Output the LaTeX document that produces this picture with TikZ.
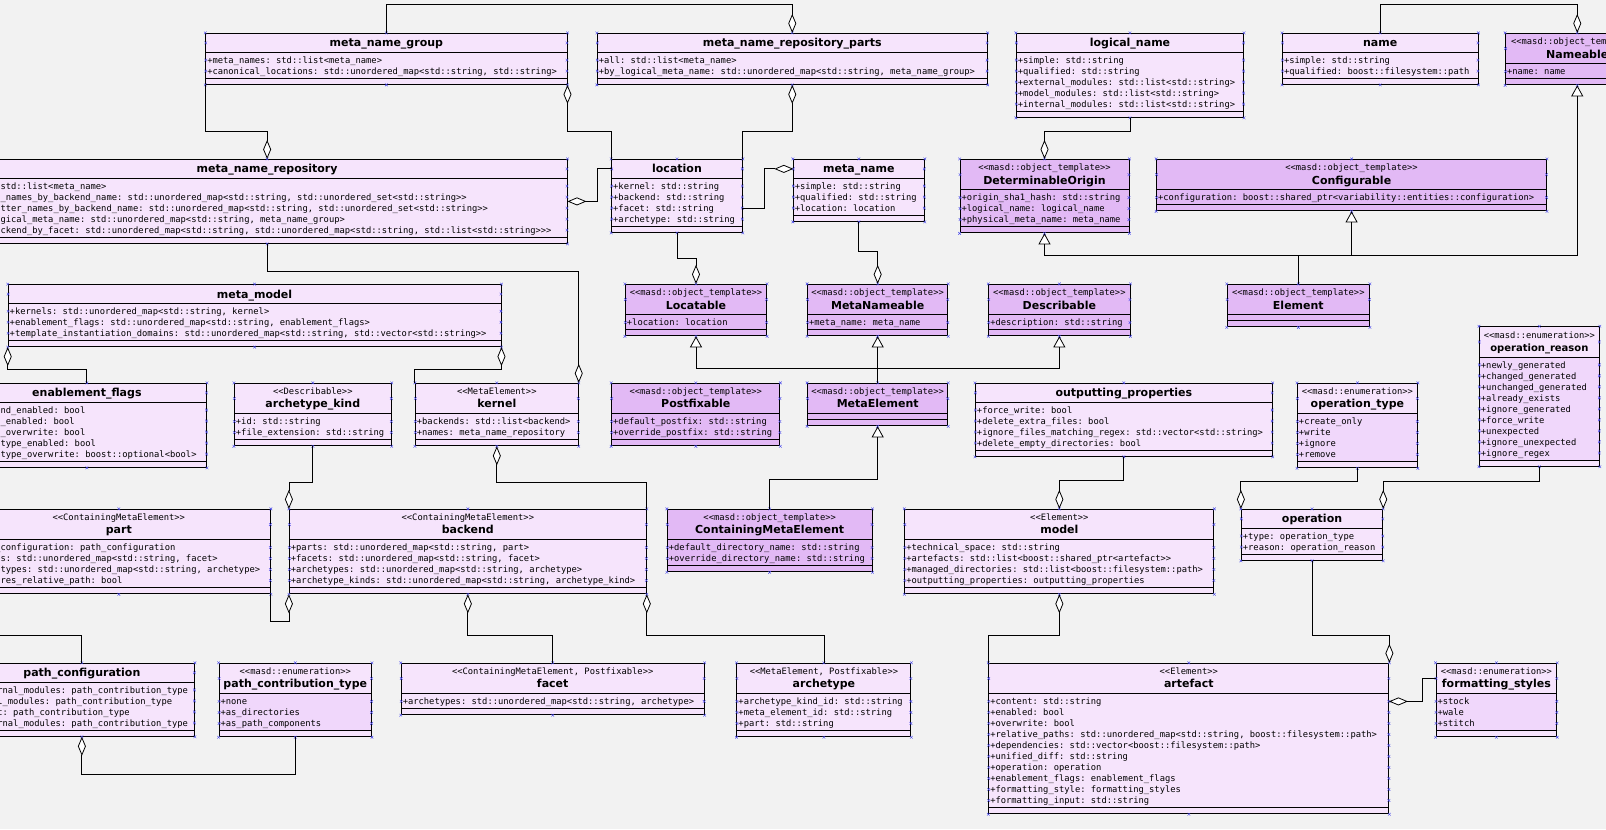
\documentclass[tikz,border=0pt]{standalone}
\usepackage{fontspec}
\setmainfont{DejaVu Sans}
\setmonofont{DejaVu Sans Mono}
\usetikzlibrary{arrows.meta,fit}
\definecolor{bgcol}{RGB}{242,242,242}
\definecolor{umlplain}{RGB}{246,228,252}
\definecolor{umltmpl}{RGB}{226,185,245}
\definecolor{umlenum}{RGB}{240,215,251}
\definecolor{markblue}{RGB}{70,70,235}
\tikzset{
  box plain/.style={draw, fill=umlplain, inner sep=0pt, line width=0.9pt},
  box tmpl/.style={draw, fill=umltmpl, inner sep=0pt, line width=0.9pt},
  box enum/.style={draw, fill=umlplain, inner sep=0pt, line width=0.9pt},
  attr plain/.style={fill=umlplain},
  attr tmpl/.style={fill=umltmpl},
  attr enum/.style={fill=umlenum},
  boxline/.style={line width=0.9pt},
  xmark/.style={draw=markblue, line width=0.4pt},
  titletext/.style={font=\bfseries\fontsize{11}{13}\selectfont, inner sep=0pt},
  stereotext/.style={font=\ttfamily\fontsize{8.8}{10}\selectfont, inner sep=0pt},
  attrtext/.style={font=\ttfamily\fontsize{8.8}{11}\selectfont, inner sep=0pt, align=left},
  link/.style={line width=0.8pt},
  agg/.style={link, -{Diamond[open, fill=white, length=19pt, width=8pt]}},
  gga/.style={link, {Diamond[open, fill=white, length=19pt, width=8pt]}-},
  inh/.style={link, -{Triangle[open, fill=white, length=11pt, width=12pt]}}
}
\newcommand{\umlclass}[9]{%
  \if\relax\detokenize{#6}\relax\def\tth{18.6}\else\def\tth{29.8}\fi
  \ifnum#8=0 \def\aah{5.9}\else\pgfmathsetmacro\aah{10.75*#8+3.9}\fi
  \pgfmathsetmacro\ysep{#5+\tth}
  \pgfmathsetmacro\yops{\ysep+\aah}
  \pgfmathsetmacro\ybot{\yops+5.9}
  \pgfmathsetmacro\xmid{(#3+#4)/2}
  \coordinate (#1-nw) at (#3,#5);
  \coordinate (#1-se) at (#4,\ybot);
  \node[box #2, fit=(#1-nw)(#1-se)] (#1) {};
  \fill[attr #2] (#3,\ysep) rectangle (#4,\yops);
  \draw[boxline] (#3,\ysep) -- (#4,\ysep) (#3,\yops) -- (#4,\yops) (#1-nw) rectangle (#1-se);
  \coordinate (#1-tl) at (#3,#5+\tth/2);
  \coordinate (#1-tr) at (#4,#5+\tth/2);
  \if\relax\detokenize{#6}\relax
    \node[titletext, anchor=base] (#1-t) at (\xmid,#5+13.3) {#7};
  \else
    \node[stereotext, anchor=base] (#1-s) at (\xmid,#5+11.2) {#6};
    \node[titletext, anchor=base] (#1-t) at (\xmid,#5+24.1) {#7};
  \fi
  \ifnum#8>0
    \node[attrtext, anchor=north west] (#1-a) at (#3+1.3,\ysep+3.1) {\rule{0pt}{7.5pt}#9};
    \foreach \i in {1,...,#8}{
      \coordinate (#1-w\i) at (#3,\ysep+10.75*\i-3.25);
      \coordinate (#1-e\i) at (#4,\ysep+10.75*\i-3.25);
      \draw[xmark] (#1-w\i) +(-1.3,-1.3) -- +(1.3,1.3) +(-1.3,1.3) -- +(1.3,-1.3);
      \draw[xmark] (#1-e\i) +(-1.3,-1.3) -- +(1.3,1.3) +(-1.3,1.3) -- +(1.3,-1.3);
    }
  \fi
  \foreach \p in {#1.north west,#1.north,#1.north east,#1.south west,#1.south,#1.south east,#1-tl,#1-tr}
    \draw[xmark] (\p) +(-1.3,-1.3) -- +(1.3,1.3) +(-1.3,1.3) -- +(1.3,-1.3);
}
\begin{document}
\begin{tikzpicture}[x=1.0235pt, y=-1.0235pt]
  \useasboundingbox (0,0) rectangle (1569.1,810);
  \clip (0,0) rectangle (1569.1,810);
  \fill[bgcol] (0,0) rectangle (1569.1,810);

  \umlclass{mng}{plain}{201}{554}{32.6}{}{meta\_name\_group}{2}{+meta\_names: std::list<meta\_name>\\+canonical\_locations: std::unordered\_map<std::string, std::string>}
  \umlclass{mnrp}{plain}{583.6}{964.5}{32.6}{}{meta\_name\_repository\_parts}{2}{+all: std::list<meta\_name>\\+by\_logical\_meta\_name: std::unordered\_map<std::string, meta\_name\_group>}
  \umlclass{lgn}{plain}{993}{1215}{32.6}{}{logical\_name}{5}{+simple: std::string\\+qualified: std::string\\+external\_modules: std::list<std::string>\\+model\_modules: std::list<std::string>\\+internal\_modules: std::list<std::string>}
  \umlclass{name}{plain}{1253}{1444}{32.6}{}{name}{2}{+simple: std::string\\+qualified: boost::filesystem::path}
  \umlclass{nmb}{tmpl}{1471}{1611}{32.6}{<<masd::object\_template>>}{Nameable}{1}{+name: name}

  \umlclass{mnr}{plain}{-32}{554}{155.7}{}{meta\_name\_repository}{5}{+all: std::list<meta\_name>\\+facet\_names\_by\_backend\_name: std::unordered\_map<std::string, std::unordered\_set<std::string>>\\+formatter\_names\_by\_backend\_name: std::unordered\_map<std::string, std::unordered\_set<std::string>>\\+by\_logical\_meta\_name: std::unordered\_map<std::string, meta\_name\_group>\\+by\_backend\_by\_facet: std::unordered\_map<std::string, std::unordered\_map<std::string, std::list<std::string>>>}
  \umlclass{loc}{plain}{597.6}{725.3}{155.7}{}{location}{4}{+kernel: std::string\\+backend: std::string\\+facet: std::string\\+archetype: std::string}
  \umlclass{mn}{plain}{775.1}{903.1}{155.7}{}{meta\_name}{3}{+simple: std::string\\+qualified: std::string\\+location: location}
  \umlclass{dor}{tmpl}{938}{1103}{155.7}{<<masd::object\_template>>}{DeterminableOrigin}{3}{+origin\_sha1\_hash: std::string\\+logical\_name: logical\_name\\+physical\_meta\_name: meta\_name}
  \umlclass{cfg}{tmpl}{1130}{1511}{155.7}{<<masd::object\_template>>}{Configurable}{1}{+configuration: boost::shared\_ptr<variability::entities::configuration>}

  \umlclass{mm}{plain}{8}{489.5}{278}{}{meta\_model}{3}{+kernels: std::unordered\_map<std::string, kernel>\\+enablement\_flags: std::unordered\_map<std::string, enablement\_flags>\\+template\_instantiation\_domains: std::unordered\_map<std::string, std::vector<std::string>>}
  \umlclass{loca}{tmpl}{611}{749}{277.8}{<<masd::object\_template>>}{Locatable}{1}{+location: location}
  \umlclass{mnb}{tmpl}{789}{926}{277.8}{<<masd::object\_template>>}{MetaNameable}{1}{+meta\_name: meta\_name}
  \umlclass{desc}{tmpl}{966}{1104}{277.8}{<<masd::object\_template>>}{Describable}{1}{+description: std::string}
  \umlclass{elem}{tmpl}{1199}{1338}{277.8}{<<masd::object\_template>>}{Element}{0}{}
  \umlclass{opr}{enum}{1445.4}{1562.6}{319.2}{<<masd::enumeration>>}{\fontsize{10}{12}\selectfont operation\_reason}{9}{+newly\_generated\\+changed\_generated\\+unchanged\_generated\\+already\_exists\\+ignore\_generated\\+force\_write\\+unexpected\\+ignore\_unexpected\\+ignore\_regex}

  \umlclass{enf}{plain}{-32}{201.8}{374.5}{}{enablement\_flags}{5}{+backend\_enabled: bool\\+facet\_enabled: bool\\+facet\_overwrite: bool\\+archetype\_enabled: bool\\+archetype\_overwrite: boost::optional<bool>}
  \umlclass{ak}{plain}{229}{382.3}{374.5}{<<Describable>>}{archetype\_kind}{2}{+id: std::string\\+file\_extension: std::string}
  \umlclass{kern}{plain}{405.8}{565}{374.5}{<<MetaElement>>}{kernel}{2}{+backends: std::list<backend>\\+names: meta\_name\_repository}
  \umlclass{pfx}{tmpl}{597.6}{762}{374.5}{<<masd::object\_template>>}{Postfixable}{2}{+default\_postfix: std::string\\+override\_postfix: std::string}
  \umlclass{mel}{tmpl}{789}{926}{374.5}{<<masd::object\_template>>}{MetaElement}{0}{}
  \umlclass{outp}{plain}{953}{1243}{374.5}{}{outputting\_properties}{4}{+force\_write: bool\\+delete\_extra\_files: bool\\+ignore\_files\_matching\_regex: std::vector<std::string>\\+delete\_empty\_directories: bool}
  \umlclass{opt}{enum}{1267.6}{1384.8}{374.5}{<<masd::enumeration>>}{operation\_type}{4}{+create\_only\\+write\\+ignore\\+remove}

  \umlclass{part}{plain}{-32}{264.2}{497.6}{<<ContainingMetaElement>>}{part}{4}{+path\_configuration: path\_configuration\\+facets: std::unordered\_map<std::string, facet>\\+archetypes: std::unordered\_map<std::string, archetype>\\+requires\_relative\_path: bool}
  \umlclass{be}{plain}{282.7}{631.5}{497.6}{<<ContainingMetaElement>>}{backend}{4}{+parts: std::unordered\_map<std::string, part>\\+facets: std::unordered\_map<std::string, facet>\\+archetypes: std::unordered\_map<std::string, archetype>\\+archetype\_kinds: std::unordered\_map<std::string, archetype\_kind>}
  \umlclass{cme}{tmpl}{652}{852}{497.6}{<<masd::object\_template>>}{ContainingMetaElement}{2}{+default\_directory\_name: std::string\\+override\_directory\_name: std::string}
  \umlclass{mdl}{plain}{884}{1186}{497.6}{<<Element>>}{model}{4}{+technical\_space: std::string\\+artefacts: std::list<boost::shared\_ptr<artefact>>\\+managed\_directories: std::list<boost::filesystem::path>\\+outputting\_properties: outputting\_properties}
  \umlclass{op}{plain}{1212.8}{1351}{497.6}{}{operation}{2}{+type: operation\_type\\+reason: operation\_reason}

  \umlclass{pcf}{plain}{-30}{190}{648}{}{path\_configuration}{4}{+external\_modules: path\_contribution\_type\\+model\_modules: path\_contribution\_type\\+facet: path\_contribution\_type\\+internal\_modules: path\_contribution\_type}
  \umlclass{pct}{enum}{214}{363}{648}{<<masd::enumeration>>}{path\_contribution\_type}{3}{+none\\+as\_directories\\+as\_path\_components}
  \umlclass{fac}{plain}{392}{688}{648}{<<ContainingMetaElement, Postfixable>>}{facet}{1}{+archetypes: std::unordered\_map<std::string, archetype>}
  \umlclass{arc}{plain}{720}{890}{648}{<<MetaElement, Postfixable>>}{archetype}{3}{+archetype\_kind\_id: std::string\\+meta\_element\_id: std::string\\+part: std::string}
  \umlclass{art}{plain}{966}{1357}{648}{<<Element>>}{artefact}{10}{+content: std::string\\+enabled: bool\\+overwrite: bool\\+relative\_paths: std::unordered\_map<std::string, boost::filesystem::path>\\+dependencies: std::vector<boost::filesystem::path>\\+unified\_diff: std::string\\+operation: operation\\+enablement\_flags: enablement\_flags\\+formatting\_style: formatting\_styles\\+formatting\_input: std::string}
  \umlclass{fmt}{enum}{1403}{1521}{648}{<<masd::enumeration>>}{formatting\_styles}{3}{+stock\\+wale\\+stitch}

  \draw[agg] (mng.north) -- ++(0,-27.4) -| (mnrp.north);
  \draw[agg] (mng.south west) -- ++(0,45.5) -| (mnr.north);
  \draw[gga] (mng.south east) -- ++(0,45.5) -| (loc.north west);
  \draw[gga] (mnrp.south) -- ++(0,45.5) -| (loc.north east);
  \draw[gga] (mnr.east) -- ++(29,0) |- (loc-tl);
  \draw[agg] (loc-e3) -- ++(22,0) |- (mn-tl);
  \draw[agg] (mnr.south) -- ++(0,27) -| (kern.north east);
  \draw[agg] (loc.south) -- ++(0,25) -| (loca.north);
  \draw[agg] (mn.south) -- ++(0,28.6) -| (mnb.north);
  \draw[agg] (lgn.south) -- ++(0,13.5) -| (dor.north);
  \draw[agg] (name.north) -- ++(0,-27.4) -| (nmb.north);
  \draw[inh] (elem.north) -- ++(0,-27.8) -| (dor.south);
  \draw[inh] (elem.north) -- ++(0,-27.8) -| (cfg.south);
  \draw[inh] (elem.north) -- ++(0,-27.8) -| (nmb.south);
  \draw[inh] (mel.north) -- ++(0,-14.5) -| (loca.south);
  \draw[inh] (mel.north) -- ++(0,-14.5) -| (mnb.south);
  \draw[inh] (mel.north) -- ++(0,-14.5) -| (desc.south);
  \draw[inh] (cme.north) -- ++(0,-28.6) -| (mel.south);
  \draw[gga] (mm.south west) -- ++(0,22.2) -| (enf.north);
  \draw[gga] (mm.south east) -- ++(0,22.2) -| (kern.north west);
  \draw[agg] (ak.south) -- ++(0,35) -| (be.north west);
  \draw[gga] (kern.south) -- ++(0,35) -| (be.north east);
  \draw[gga] (be.south west) -- ++(0,26.5) -| (part.south east);
  \draw[gga] (part.south west) -- ++(0,40) -| (pcf.north);
  \draw[gga] (pcf.south) -- ++(0,36.6) -| (pct.south);
  \draw[gga] (be.south) -- ++(0,40) -| (fac.north);
  \draw[gga] (be.south east) -- ++(0,40) -| (arc.north);
  \draw[agg] (outp.south) -- ++(0,23) -| (mdl.north);
  \draw[agg] (opt.south) -- ++(0,13.2) -| (op.north west);
  \draw[agg] (opr.south) -- ++(0,14.75) -| (op.north east);
  \draw[gga] (mdl.south) -- ++(0,40) -| (art.north west);
  \draw[agg] (op.south) -- ++(0,73.2) -| (art.north east);
  \draw[agg] (fmt-tl) -- ++(-13,0) |- (art-e1);
\end{tikzpicture}
\end{document}
